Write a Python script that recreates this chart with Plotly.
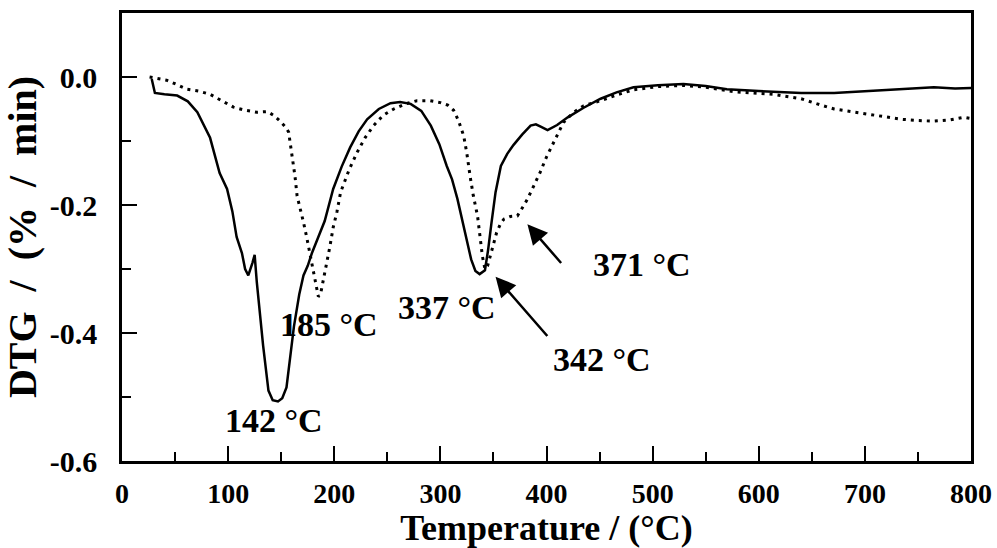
import plotly.graph_objects as go

# ── data ─────────────────────────────────────────────────────────────────────
temp_a = [28, 31, 40, 52, 62, 71, 83, 92, 99, 104, 108, 113, 116, 119, 123, 125,
          127, 130, 133, 138, 142, 147, 151, 155, 158, 162, 167, 171, 175, 179,
          185, 191, 199, 207, 215, 223, 231, 242, 253, 262, 272, 282, 291, 299,
          306, 311, 316, 321, 325, 329, 333, 337, 342, 345, 348, 352, 357, 363,
          369, 377, 385, 390, 395, 401, 410, 420, 435, 451, 466, 482, 505, 529, 550,
          570, 600, 640, 671, 700, 718, 740, 765, 785, 800]
dtg_a = [-0.003, -0.025, -0.027, -0.029, -0.038, -0.055, -0.095, -0.150, -0.175,
         -0.21, -0.250, -0.275, -0.300, -0.31, -0.29, -0.278, -0.32, -0.37, -0.42,
         -0.49, -0.505, -0.507, -0.502, -0.485, -0.44, -0.39, -0.34, -0.31, -0.295,
         -0.275, -0.25, -0.225, -0.175, -0.14, -0.11, -0.085, -0.066, -0.05, -0.041,
         -0.039, -0.042, -0.053, -0.076, -0.105, -0.139, -0.16, -0.19, -0.225,
         -0.255, -0.285, -0.303, -0.308, -0.302, -0.27, -0.23, -0.18, -0.139, -0.12,
         -0.106, -0.09, -0.076, -0.074, -0.078, -0.083, -0.075, -0.063, -0.048, -0.034,
         -0.024, -0.016, -0.013, -0.011, -0.014, -0.019, -0.022, -0.025, -0.025,
         -0.022, -0.020, -0.018, -0.016, -0.018, -0.017]

temp_b = [26, 34, 42, 52, 61, 72, 83, 95, 105, 116, 127, 137, 143, 149, 154, 157,
          160, 163, 165, 168, 171, 174, 177, 180, 182, 185, 187, 190, 193, 196,
          199, 202.5, 206, 214, 221.5, 229, 237, 246, 256, 267, 278, 290, 300,
          307, 312.5, 317, 322, 325, 328, 331, 335, 337.5, 339.6, 342, 344.5, 347,
          350, 353, 357, 360, 366, 372.6, 377, 382, 388, 394, 400, 407, 416, 425,
          435, 451, 466, 482, 505, 529, 550, 577, 600, 614, 625, 640, 655, 671,
          687, 703, 720, 734, 750, 765, 780, 793, 800]
dtg_b = [0.0, -0.002, -0.005, -0.012, -0.019, -0.022, -0.027, -0.038, -0.047,
         -0.052, -0.055, -0.054, -0.06, -0.069, -0.078, -0.086, -0.12, -0.155,
         -0.186, -0.205, -0.227, -0.25, -0.274, -0.30, -0.316, -0.343, -0.34,
         -0.316, -0.29, -0.264, -0.235, -0.211, -0.18, -0.145, -0.118, -0.095,
         -0.076, -0.06, -0.050, -0.042, -0.037, -0.037, -0.040, -0.044, -0.052,
         -0.068, -0.092, -0.12, -0.155, -0.185, -0.217, -0.25, -0.28, -0.30,
         -0.295, -0.28, -0.26, -0.243, -0.228, -0.222, -0.218, -0.217, -0.205,
         -0.191, -0.17, -0.149, -0.125, -0.102, -0.071, -0.056, -0.045, -0.037,
         -0.028, -0.020, -0.015, -0.013, -0.016, -0.023, -0.026, -0.027, -0.030,
         -0.034, -0.042, -0.050, -0.054, -0.058, -0.063, -0.066, -0.068, -0.069,
         -0.067, -0.063, -0.065]

x_ticks = [0, 100, 200, 300, 400, 500, 600, 700, 800]
y_ticks = [0.0, -0.2, -0.4, -0.6]
y_tick_text = ["0.0", "-0.2", "-0.4", "-0.6"]

# peak labels: text, x, y
peak_labels = [
    ("142 °C", 143, -0.536),
    ("185 °C", 195, -0.387),
    ("337 °C", 306, -0.360),
    ("342 °C", 452, -0.442),
    ("371 °C", 490, -0.293),
]
# arrows: head x, head y, tail x, tail y
arrows = [
    (352, -0.312, 402, -0.407),
    (382, -0.230, 415, -0.293),
]

_FONT = "Liberation Serif"
_NB = "\u00a0"

fig = go.Figure()
fig.add_trace(go.Scatter(
    x=temp_b, y=dtg_b, mode="lines",
    line=dict(color="black", width=3, dash="3px,5px"),
    showlegend=False,
))
fig.add_trace(go.Scatter(
    x=temp_a, y=dtg_a, mode="lines",
    line=dict(color="black", width=2.5),
    showlegend=False,
))

for text, x, y in peak_labels:
    fig.add_annotation(
        x=x, y=y, text=text, showarrow=False,
        font=dict(family=_FONT, size=34, color="black", weight="bold"),
    )

for hx, hy, tx, ty in arrows:
    fig.add_annotation(
        x=hx, y=hy, ax=tx, ay=ty, axref="x", ayref="y",
        text="", showarrow=True,
        arrowhead=2, arrowsize=1.6, arrowwidth=2.5, arrowcolor="black",
    )

axis_common = dict(
    showline=True, linecolor="black", linewidth=2.5, mirror=True,
    ticks="inside", ticklen=15, tickwidth=2, tickcolor="black",
    showgrid=False, zeroline=False, automargin=False,
)

fig.update_xaxes(
    range=[0, 800], tickvals=x_ticks,
    minor=dict(dtick=50, tick0=0, ticks="inside", ticklen=9, tickwidth=2,
               tickcolor="black"),
    ticklabelstandoff=6,
    tickfont=dict(family=_FONT, size=28, color="black", weight="bold"),
    title=dict(text="Temperature / (°C)", standoff=0,
               font=dict(family=_FONT, size=36, color="black", weight="bold")),
    **axis_common,
)
y_title = "DTG" + _NB * 2 + "/" + _NB * 2 + "(%" + _NB * 2 + "/" + _NB * 2 + "min)"
fig.update_yaxes(
    range=[-0.6, 0.1], tickvals=y_ticks, ticktext=y_tick_text,
    minor=dict(dtick=0.1, tick0=0, ticks="inside", ticklen=9, tickwidth=2,
               tickcolor="black"),
    ticklabelstandoff=16,
    tickfont=dict(family=_FONT, size=30, color="black", weight="bold"),
    title=dict(text=y_title, standoff=8,
               font=dict(family=_FONT, size=40, color="black", weight="bold")),
    **axis_common,
)

fig.update_layout(
    width=997, height=548,
    margin=dict(l=122, r=26, t=13, b=87),
    plot_bgcolor="white", paper_bgcolor="white",
)

# the page body has a default 8px margin; drop it so the figure fills the window
fig.write_html("out.html", config={"displayModeBar": False},
               post_script="document.body.style.margin = '0';")
